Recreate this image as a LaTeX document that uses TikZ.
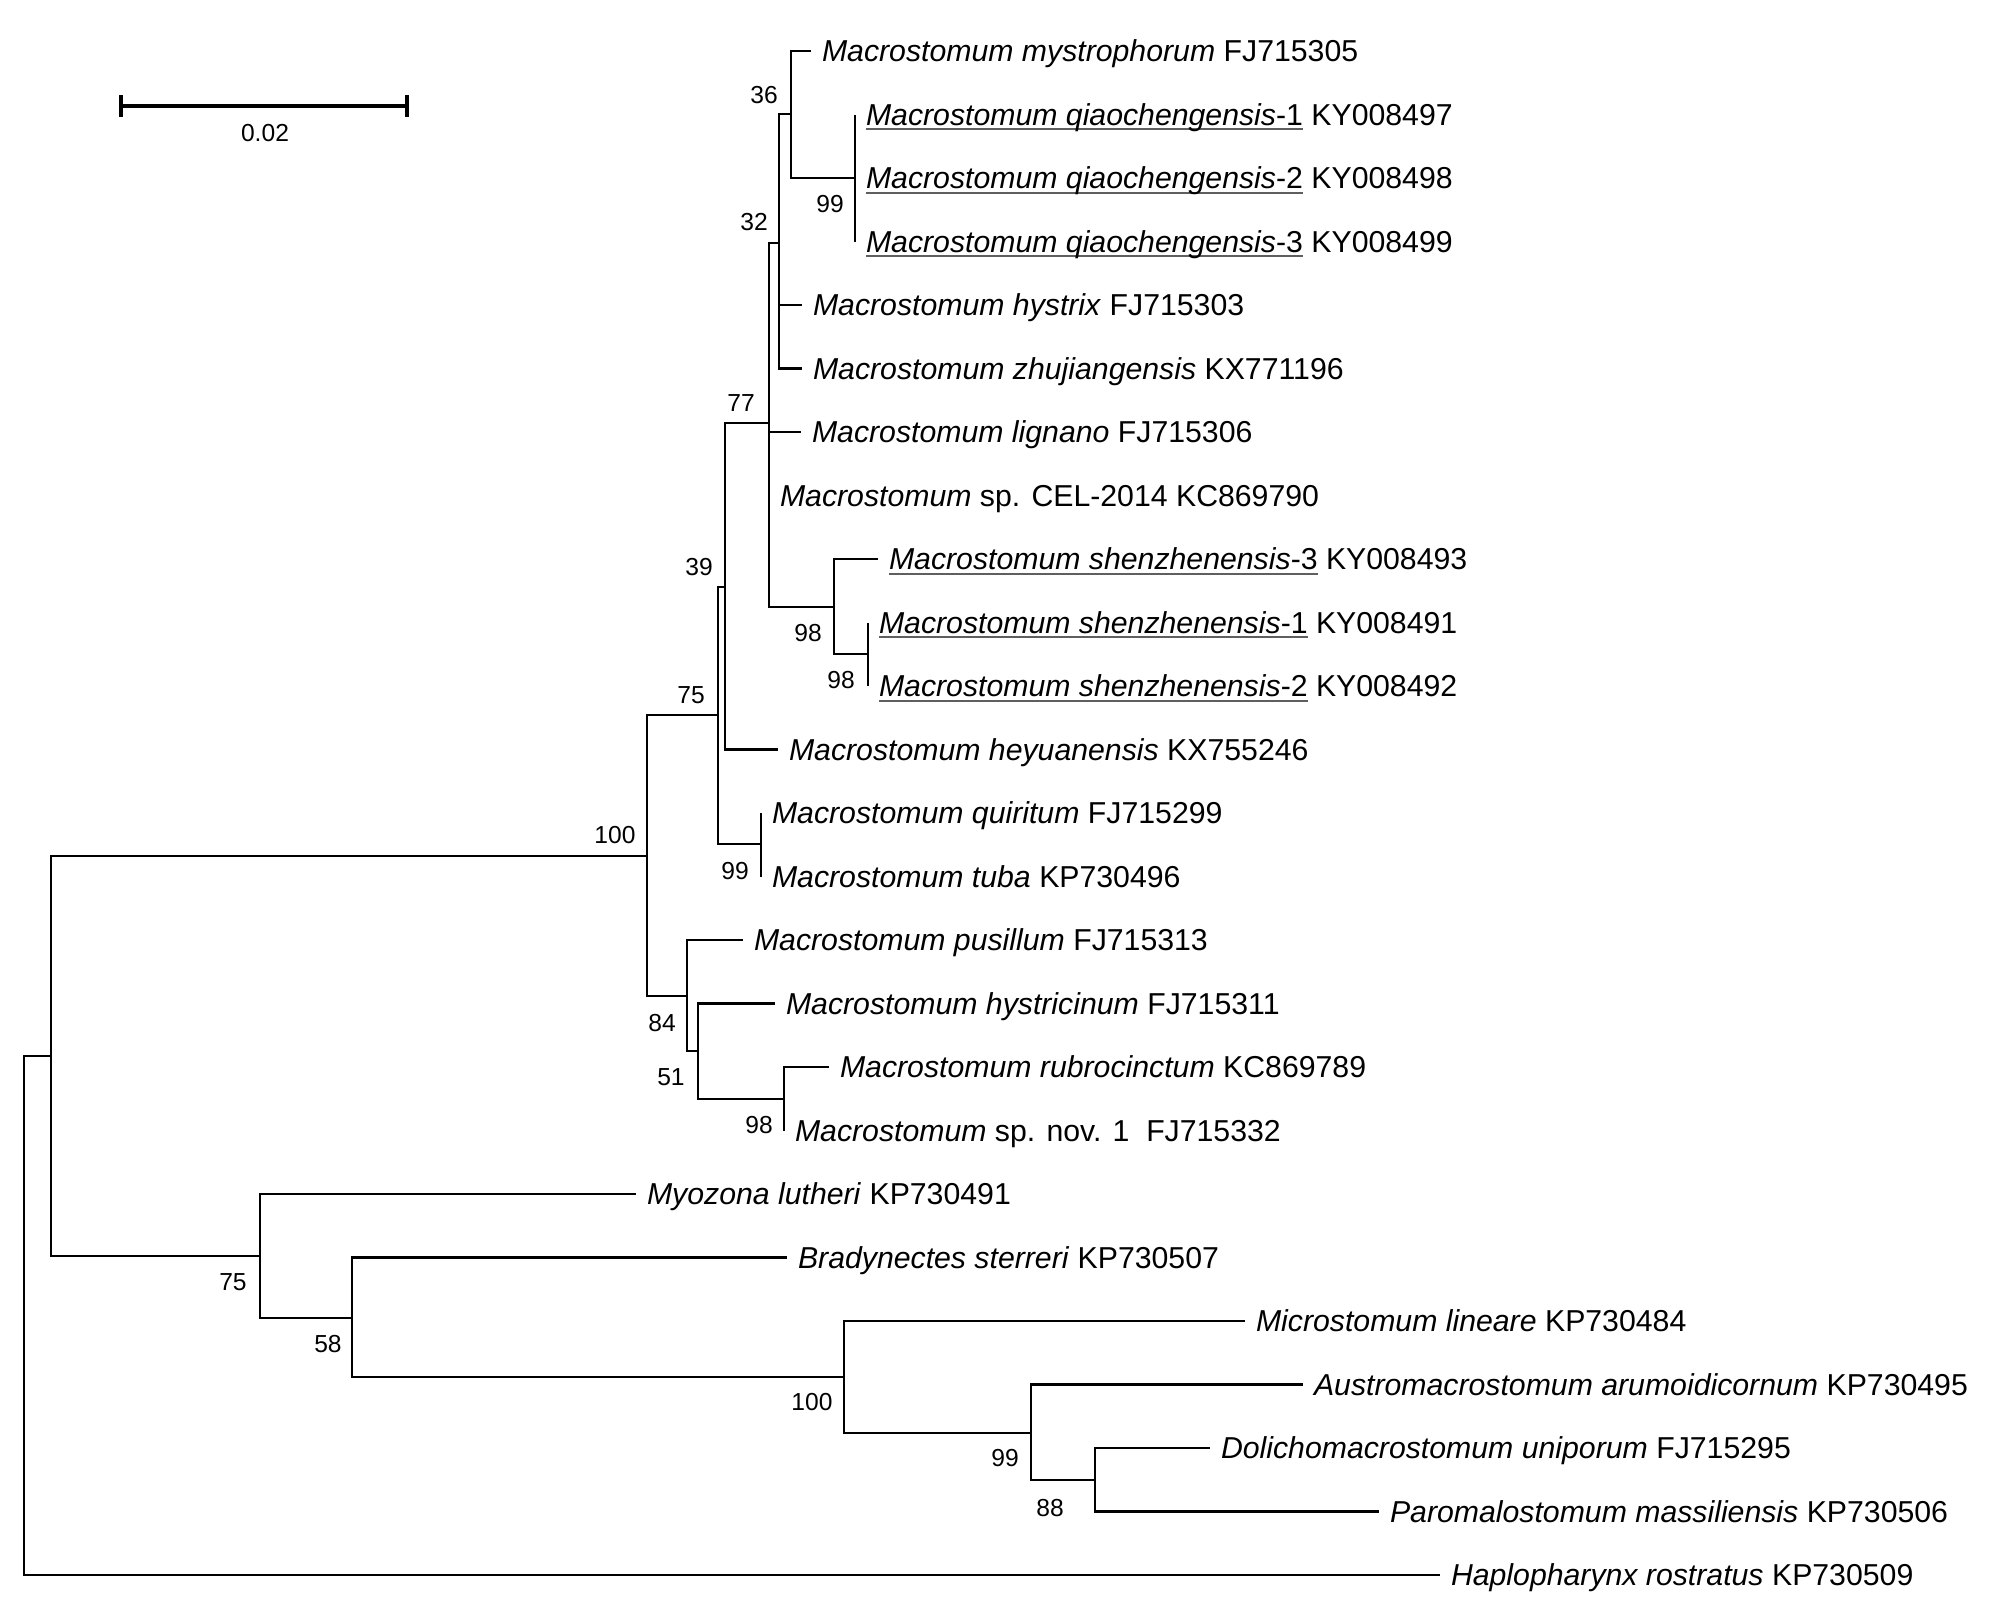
\documentclass[tikz,border=0pt]{standalone}
\usepackage{fontspec}
\setmainfont{Liberation Sans}
\usepackage{xcolor}
\usepackage{tikz}
\usetikzlibrary{positioning}
\definecolor{ulgray}{RGB}{95,95,95}
\newcommand{\leaffont}{\fontsize{8.6pt}{10pt}\selectfont}
\newcommand{\bootfont}{\fontsize{7pt}{8pt}\selectfont}
\newcommand{\ulname}[1]{\setbox0\hbox{#1}\rlap{\color{ulgray}\rule[-1.4pt]{\wd0}{0.6pt}}\box0\relax}

\begin{document}
\begin{tikzpicture}[x=0.01cm,y=-0.01cm,
    branch/.style={line width=0.75pt},
    leaf/.style={anchor=west,inner sep=0pt,outer xsep=0.11cm,text height=6.2pt,text depth=0pt,font=\leaffont},
    boot/.style={inner sep=0pt,font=\bootfont}]
        \useasboundingbox (0,0) rectangle (2008,1611);

        % scale bar
        \coordinate (sbl) at (121,106);
        \coordinate (sbr) at (407,106);
        \draw[line width=1.2pt] (sbl) -- (sbr);
        \draw[line width=1.2pt] ([yshift=0.11cm]sbl) -- ([yshift=-0.11cm]sbl);
        \draw[line width=1.2pt] ([yshift=0.11cm]sbr) -- ([yshift=-0.11cm]sbr);
        \node[boot] (sblab) at (265,133) {0.02};

        % internal nodes
        \coordinate (root) at (24,1315);
        \coordinate (nA) at (51,1056);
        \coordinate (n100) at (647,856);
        \coordinate (n75) at (718,715);
        \coordinate (n39) at (725,587);
        \coordinate (n77) at (769,423);
        \coordinate (n32) at (779,243);
        \coordinate (n36) at (791,114);
        \coordinate (nq) at (855,178);
        \coordinate (nshen) at (834,607);
        \coordinate (ns12) at (868,654);
        \coordinate (nquir) at (761,844);
        \coordinate (n84) at (687,996);
        \coordinate (n51) at (698,1051);
        \coordinate (n98r) at (784,1099);
        \coordinate (n75b) at (260,1256);
        \coordinate (n58) at (352,1318);
        \coordinate (n100b) at (844,1377);
        \coordinate (n99b) at (1031,1433);
        \coordinate (n88) at (1095,1480);

        % taxa
        \node[leaf] (mys) at (811,51) {\textit{Macrostomum mystrophorum} FJ715305};
        \node[leaf] (q1) at (855,114.5) {\ulname{\textit{Macrostomum qiaochengensis}-1} KY008497};
        \node[leaf] (q2) at (855,178) {\ulname{\textit{Macrostomum qiaochengensis}-2} KY008498};
        \node[leaf] (q3) at (855,241.5) {\ulname{\textit{Macrostomum qiaochengensis}-3} KY008499};
        \node[leaf] (hys) at (802,305) {\textit{Macrostomum hystrix} FJ715303};
        \node[leaf] (zhu) at (802,368.5) {\textit{Macrostomum zhujiangensis} KX771196};
        \node[leaf] (lig) at (801,432) {\textit{Macrostomum lignano} FJ715306};
        \node[leaf] (cel) at (769,495.5) {\textit{Macrostomum} sp. CEL-2014 KC869790};
        \node[leaf] (sh3) at (878,559) {\ulname{\textit{Macrostomum shenzhenensis}-3} KY008493};
        \node[leaf] (sh1) at (868,622.5) {\ulname{\textit{Macrostomum shenzhenensis}-1} KY008491};
        \node[leaf] (sh2) at (868,686) {\ulname{\textit{Macrostomum shenzhenensis}-2} KY008492};
        \node[leaf] (hey) at (778,749.5) {\textit{Macrostomum heyuanensis} KX755246};
        \node[leaf] (qui) at (761,813) {\textit{Macrostomum quiritum} FJ715299};
        \node[leaf] (tub) at (761,876.5) {\textit{Macrostomum tuba} KP730496};
        \node[leaf] (pus) at (743,940) {\textit{Macrostomum pusillum} FJ715313};
        \node[leaf] (hyc) at (775,1003.5) {\textit{Macrostomum hystricinum} FJ715311};
        \node[leaf] (rub) at (829,1067) {\textit{Macrostomum rubrocinctum} KC869789};
        \node[leaf] (spn) at (784,1130.5) {\textit{Macrostomum} sp. nov. 1\ \ FJ715332};
        \node[leaf] (myo) at (636,1194) {\textit{Myozona lutheri} KP730491};
        \node[leaf] (bra) at (787,1257.5) {\textit{Bradynectes sterreri} KP730507};
        \node[leaf] (mic) at (1245,1321) {\textit{Microstomum lineare} KP730484};
        \node[leaf] (aus) at (1303,1384.5) {\textit{Austromacrostomum arumoidicornum} KP730495};
        \node[leaf] (dol) at (1210,1448) {\textit{Dolichomacrostomum uniporum} FJ715295};
        \node[leaf] (par) at (1379,1511.5) {\textit{Paromalostomum massiliensis} KP730506};
        \node[leaf] (hap) at (1440,1575) {\textit{Haplopharynx rostratus} KP730509};

        % branches
        \draw[branch] (root) |- (nA);
        \draw[branch] (root) |- (hap);
        \draw[branch] (nA) |- (n100);
        \draw[branch] (nA) |- (n75b);
        \draw[branch] (n100) |- (n75);
        \draw[branch] (n100) |- (n84);
        \draw[branch] (n75) |- (n39);
        \draw[branch] (n75) |- (nquir);
        \draw[branch] (n39) |- (n77);
        \draw[branch] (n39) |- (hey);
        \draw[branch] (n77) |- (n32);
        \draw[branch] (n77) |- (lig);
        \draw[branch] (n77) |- (cel);
        \draw[branch] (n77) |- (nshen);
        \draw[branch] (n32) |- (n36);
        \draw[branch] (n32) |- (hys);
        \draw[branch] (n32) |- (zhu);
        \draw[branch] (n36) |- (mys);
        \draw[branch] (n36) |- (nq);
        \draw[branch] (nq) |- (q1);
        \draw[branch] (nq) |- (q2);
        \draw[branch] (nq) |- (q3);
        \draw[branch] (nshen) |- (sh3);
        \draw[branch] (nshen) |- (ns12);
        \draw[branch] (ns12) |- (sh1);
        \draw[branch] (ns12) |- (sh2);
        \draw[branch] (nquir) |- (qui);
        \draw[branch] (nquir) |- (tub);
        \draw[branch] (n84) |- (pus);
        \draw[branch] (n84) |- (n51);
        \draw[branch] (n51) |- (hyc);
        \draw[branch] (n51) |- (n98r);
        \draw[branch] (n98r) |- (rub);
        \draw[branch] (n98r) |- (spn);
        \draw[branch] (n75b) |- (myo);
        \draw[branch] (n75b) |- (n58);
        \draw[branch] (n58) |- (bra);
        \draw[branch] (n58) |- (n100b);
        \draw[branch] (n100b) |- (mic);
        \draw[branch] (n100b) |- (n99b);
        \draw[branch] (n99b) |- (aus);
        \draw[branch] (n99b) |- (n88);
        \draw[branch] (n88) |- (dol);
        \draw[branch] (n88) |- (par);

        % bootstrap values
        \node[boot] (b36) at (764,95) {36};
        \node[boot] (b99q) at (830,204) {99};
        \node[boot] (b32) at (754,222) {32};
        \node[boot] (b77) at (741,403) {77};
        \node[boot] (b39) at (699,567) {39};
        \node[boot] (b98s) at (808,633) {98};
        \node[boot] (b98t) at (841,680) {98};
        \node[boot] (b75) at (691,695) {75};
        \node[boot] (b100) at (615,835) {100};
        \node[boot] (b99t) at (735,871) {99};
        \node[boot] (b84) at (662,1023) {84};
        \node[boot] (b51) at (671,1077) {51};
        \node[boot] (b98r) at (759,1125) {98};
        \node[boot] (b75b) at (233,1282) {75};
        \node[boot] (b58) at (328,1344) {58};
        \node[boot] (b100b) at (812,1402) {100};
        \node[boot] (b99b) at (1005,1458) {99};
        \node[boot] (b88) at (1050,1508) {88};
\end{tikzpicture}
\end{document}
